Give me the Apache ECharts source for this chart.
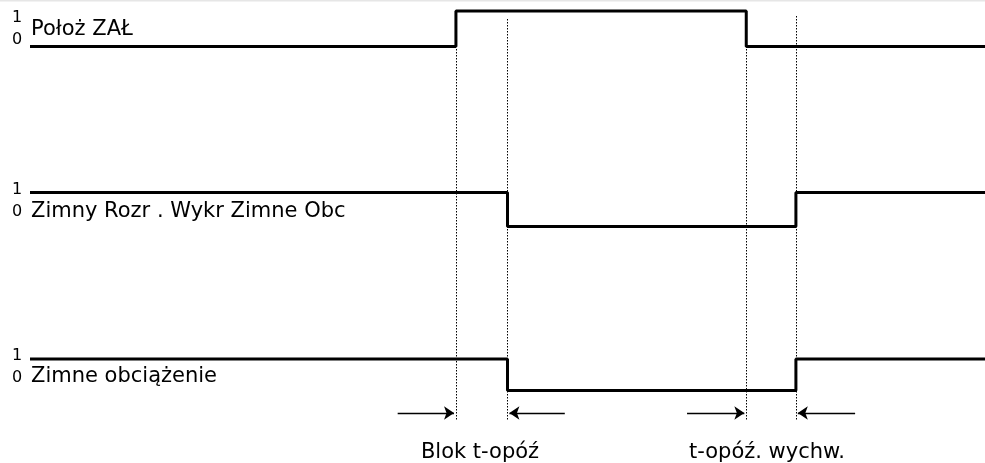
<!DOCTYPE html>
<html>
<head>
<meta charset="utf-8">
<script src="https://cdn.jsdelivr.net/npm/echarts@6/dist/echarts.min.js"></script>
<style>
  html, body { margin: 0; padding: 0; background: #fff; }
  #chart { width: 985px; height: 463px; }
</style>
</head>
<body>
<div id="chart"></div>
<script>
// signal names (top to bottom)
const signalNames = ['Położ ZAŁ', 'Zimny Rozr . Wykr Zimne Obc', 'Zimne obciążenie']
// step data: [time, level], level holds until next point
const sigClose = [[0, 0], [44.6, 1], [75, 0], [100, 0]]
const sigDetect = [[0, 1], [50, 0], [80.2, 1], [100, 1]]
const sigCold = [[0, 1], [50, 0], [80.2, 1], [100, 1]]
// event times (dotted guides)
const eventTimes = [44.6, 50, 75, 80.2]
// arrows: [from, to] in time
const arrowPairs = [[38.5, 44.4], [56.0, 50.2], [68.8, 74.8], [86.4, 80.4]]
const delayLabels = ['Blok t-opóź', 't-opóź. wychw.']

const FONT = 'DejaVu Sans'
const gridTops = [11, 192.5, 359]
const gridHeights = [35.5, 34, 31.5]
const guideTop = [49, 19, 49, 16]   // where each dotted guide starts (px)
const guideBottom = 421
const arrowY = 413

const chart = echarts.init(document.getElementById('chart'))

const grids = gridTops.map((t, i) => ({ left: 30, right: 0, top: t, height: gridHeights[i] }))
grids.push({ left: 30, right: 0, top: 0, bottom: 0 }) // overlay for guides/arrows

const xAxes = grids.map((g, i) => ({ type: 'value', gridIndex: i, min: 0, max: 100, show: false }))
const yAxes = grids.map((g, i) => i < 3
  ? { type: 'value', gridIndex: i, min: 0, max: 1, show: false }
  : { type: 'value', gridIndex: i, min: 0, max: 463, inverse: true, show: false })

const stepSeries = [sigClose, sigDetect, sigCold].map((d, i) => ({
  type: 'line',
  xAxisIndex: i,
  yAxisIndex: i,
  data: d,
  step: 'end',
  symbol: 'none',
  clip: false,
  lineStyle: { color: '#000', width: 3 }
}))

const guideSeries = {
  type: 'lines',
  coordinateSystem: 'cartesian2d',
  xAxisIndex: 3,
  yAxisIndex: 3,
  symbol: 'none',
  lineStyle: { color: '#000', width: 1, type: [1.5, 1.5], opacity: 1 },
  data: eventTimes.map((t, i) => ({ coords: [[t, guideTop[i]], [t, guideBottom]] }))
}

const arrowSeries = {
  type: 'lines',
  coordinateSystem: 'cartesian2d',
  xAxisIndex: 3,
  yAxisIndex: 3,
  symbol: ['none', 'arrow'],
  symbolSize: 10,
  lineStyle: { color: '#000', width: 1.4, opacity: 1 },
  data: arrowPairs.map(p => ({ coords: [[p[0], arrowY], [p[1], arrowY]] }))
}

// texts
const labelY = [30, 212, 377]
const oneY = [18, 190, 356]
const zeroY = [40, 212, 378]
const graphic = [
  { type: 'rect', shape: { x: 0, y: 0, width: 985, height: 1.5 }, style: { fill: '#e6e6e6' } }
]
signalNames.forEach((name, i) => {
  graphic.push({ type: 'text', x: 31, y: labelY[i], style: { text: name, font: '21px "' + FONT + '"', fill: '#000', verticalAlign: 'middle' } })
  graphic.push({ type: 'text', x: 17, y: oneY[i], style: { text: '1', font: '16px "' + FONT + '"', fill: '#000', align: 'center', verticalAlign: 'middle' } })
  graphic.push({ type: 'text', x: 17, y: zeroY[i], style: { text: '0', font: '16px "' + FONT + '"', fill: '#000', align: 'center', verticalAlign: 'middle' } })
})
const delayX = [480, 767]
delayLabels.forEach((t, i) => {
  graphic.push({ type: 'text', x: delayX[i], y: 453, style: { text: t, font: '21px "' + FONT + '"', fill: '#000', align: 'center', verticalAlign: 'middle' } })
})

chart.setOption({
  animation: false,
  backgroundColor: '#fff',
  grid: grids,
  xAxis: xAxes,
  yAxis: yAxes,
  series: [...stepSeries, guideSeries, arrowSeries],
  graphic: graphic
})
</script>
</body>
</html>
